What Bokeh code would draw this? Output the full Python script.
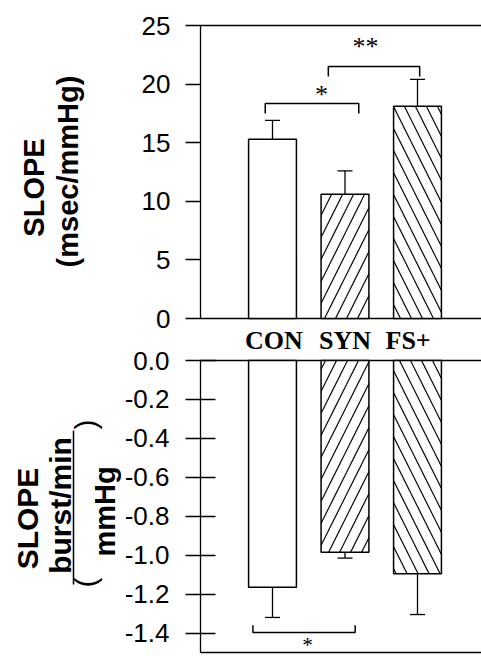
import math
from bokeh.plotting import figure
from bokeh.models import (Range1d, FixedTicker, PrintfTickFormatter, LinearAxis,
                          Label, Whisker, TeeHead, ColumnDataSource)
from bokeh.layouts import row
from bokeh.core.properties import value
from bokeh.embed import file_html
from bokeh.resources import INLINE

# ---------------- data ----------------
categories = ["CON", "SYN", "FS+"]
rr_slope = [15.3, 10.6, 18.1]            # msec/mmHg
rr_sem = [1.6, 2.0, 2.3]
msna_slope = [-1.165, -0.985, -1.095]    # (burst/min)/mmHg
msna_sem = [0.155, 0.03, 0.21]
top_ticks = [0, 5, 10, 15, 20, 25]
bottom_ticks = [0.0, -0.2, -0.4, -0.6, -0.8, -1.0, -1.2, -1.4]
top_limits = (0, 25)
bottom_limits = (-1.5, 0.0)
# significance brackets: (from, to, level, leg end, label)
top_sig = [("CON", "SYN", 18.35, 17.5, "*"), ("SYN", "FS+", 21.5, 20.65, "**")]
bottom_sig = [("CON", "SYN", -1.397, -1.36, "*")]

# ---------------- layout / style ----------------
hatches = [" ", "/", "\\"]
bracket_offsets_top = [(-0.10, 0.19), (-0.23, 0.03)]
bracket_offsets_bot = [(-0.27, 0.14)]
cat_label_offsets = [0.02, 0.0, -0.13]
PXU = 72.5                 # px per category unit
C0 = 272.0                 # page x of first category
AXIS_PX = 200.0            # page x of the vertical axes
LABW = 125                 # width of the strip holding the axis titles
W, H = 481, 656

def xd(px):
    return (px - C0) / PXU

def yt(py):                # top panel: 0..25 spans y=318..25
    return 25.0 * (318.0 - py) / 293.0

def yb(py):                # bottom panel: 0..-1.5 spans y=360..652
    return -1.5 * (py - 360.0) / 292.0

xs = list(range(len(categories)))
idx = {c: i for i, c in enumerate(categories)}
AX = xd(AXIS_PX)

p = figure(width=W - LABW, height=H,
           x_range=Range1d(xd(LABW), xd(W)), y_range=Range1d(yt(H), yt(0)),
           output_backend="svg", toolbar_location=None,
           x_axis_location=None, y_axis_location=None, min_border=0,
           outline_line_color=None, background_fill_color="white",
           border_fill_color="white")
p.extra_y_ranges = {"bot": Range1d(yb(H), yb(0))}
p.grid.visible = False

# ---- axes (both sit at the same x) ----
yax = LinearAxis(ticker=FixedTicker(ticks=top_ticks), fixed_location=AX,
                 bounds=top_limits,
                 major_tick_out=15, major_tick_in=0,
                 minor_tick_out=0, minor_tick_in=0,
                 major_label_standoff=15,
                 major_label_text_font="Liberation Sans",
                 major_label_text_font_size="26px",
                 major_label_text_color="black",
                 axis_line_width=1.3, major_tick_line_width=1.3)
p.add_layout(yax, "left")
yax2 = LinearAxis(ticker=FixedTicker(ticks=bottom_ticks), y_range_name="bot",
                  fixed_location=AX, bounds=bottom_limits,
                  formatter=PrintfTickFormatter(format="%.1f"),
                  major_tick_out=15, major_tick_in=15,
                  minor_tick_out=0, minor_tick_in=0,
                  major_label_standoff=16,
                  major_label_text_font="Liberation Sans",
                  major_label_text_font_size="26px",
                  major_label_text_color="black",
                  axis_line_width=1.3, major_tick_line_width=1.3)
p.add_layout(yax2, "left")

# horizontal frame lines of both panels
p.segment(x0=[AX, AX], x1=[xd(W), xd(W)], y0=list(top_limits), y1=list(top_limits),
          line_color="black", line_width=1.5)
p.segment(x0=[AX, AX], x1=[xd(W), xd(W)], y0=list(bottom_limits), y1=list(bottom_limits),
          line_color="black", line_width=1.5, y_range_name="bot")

# ---- top panel ----
src_t = ColumnDataSource(dict(x=xs, top=rr_slope, hatch=hatches,
                              upper=[v + e for v, e in zip(rr_slope, rr_sem)]))
p.vbar(x="x", top="top", bottom=0, width=0.66, source=src_t,
       fill_color="white", line_color="black", line_width=1.5,
       hatch_pattern="hatch", hatch_scale=22, hatch_weight=1.2, hatch_color="black")
p.add_layout(Whisker(base="x", lower="top", upper="upper", source=src_t,
                     upper_head=TeeHead(size=15, line_width=1.3), lower_head=None,
                     line_width=1.3))
for (a, b, lvl, leg, lab), (oa, ob) in zip(top_sig, bracket_offsets_top):
    x0, x1 = idx[a] + oa, idx[b] + ob
    p.line(x=[x0, x0, x1, x1], y=[leg, lvl, lvl, leg], line_color="black", line_width=1.5)

star_kw = dict(text_font="Liberation Serif", text_font_size="26px", text_color="black",
               text_align="center", text_baseline="middle")
p.add_layout(Label(x=xd(321), y=yt(94), text=top_sig[0][4], **star_kw))
p.add_layout(Label(x=xd(365), y=yt(46), text=top_sig[1][4], **star_kw))

# ---- category labels between the panels ----
p.text(x=[i + o for i, o in zip(xs, cat_label_offsets)], y=[yb(340)] * len(xs),
       text=categories, text_font=value("Liberation Serif"), text_font_style="bold",
       text_font_size=value("26px"), text_color="black",
       text_align="center", text_baseline="middle", y_range_name="bot")

# ---- bottom panel ----
src_b = ColumnDataSource(dict(x=xs, top=msna_slope, hatch=hatches,
                              lower=[v - e for v, e in zip(msna_slope, msna_sem)]))
p.vbar(x="x", top=0, bottom="top", width=0.66, source=src_b, y_range_name="bot",
       fill_color="white", line_color="black", line_width=1.5,
       hatch_pattern="hatch", hatch_scale=22, hatch_weight=1.2, hatch_color="black")
p.add_layout(Whisker(base="x", lower="lower", upper="top", source=src_b,
                     y_range_name="bot",
                     lower_head=TeeHead(size=15, line_width=1.3), upper_head=None,
                     line_width=1.3))
for (a, b, lvl, leg, lab), (oa, ob) in zip(bottom_sig, bracket_offsets_bot):
    x0, x1 = idx[a] + oa, idx[b] + ob
    p.line(x=[x0, x0, x1, x1], y=[leg, lvl, lvl, leg], line_color="black",
           line_width=1.5, y_range_name="bot")
p.add_layout(Label(x=xd(307), y=yb(644.5), text=bottom_sig[0][4], y_range_name="bot",
                   text_font="Liberation Serif", text_font_size="21px", text_color="black",
                   text_align="center", text_baseline="middle"))

# ---------------- left strip with the axis titles ----------------
labf = figure(width=LABW, height=H, x_range=Range1d(0, LABW),
              y_range=Range1d(0, H), output_backend="svg", toolbar_location=None,
              x_axis_location=None, y_axis_location=None, min_border=0,
              outline_line_color=None, background_fill_color="white",
              border_fill_color="white")
labf.grid.visible = False

def page_y(py):
    return H - py

def vtext(px, py, txt, size, style="bold"):
    labf.text(x=[px], y=[page_y(py)], text=[txt], angle=math.pi / 2,
              text_font=value("Liberation Sans"), text_font_style=style,
              text_font_size=value(size), text_color="black",
              text_align="center", text_baseline="middle")

vtext(33, 187, "SLOPE", "29px")
vtext(67, 171, "(msec/mmHg)", "29px")
vtext(27, 518, "SLOPE", "30px")
vtext(60, 505, "burst/min", "30px")
vtext(104, 511, "mmHg", "29px")
vtext(85, 582, "(", "30px", "normal")
vtext(85, 424, ")", "30px", "normal")
labf.segment(x0=[73], y0=[page_y(430)], x1=[73], y1=[page_y(584)],
             line_color="black", line_width=1.5)

layout = row(labf, p)
open("out.html", "w").write(file_html(layout, INLINE))
